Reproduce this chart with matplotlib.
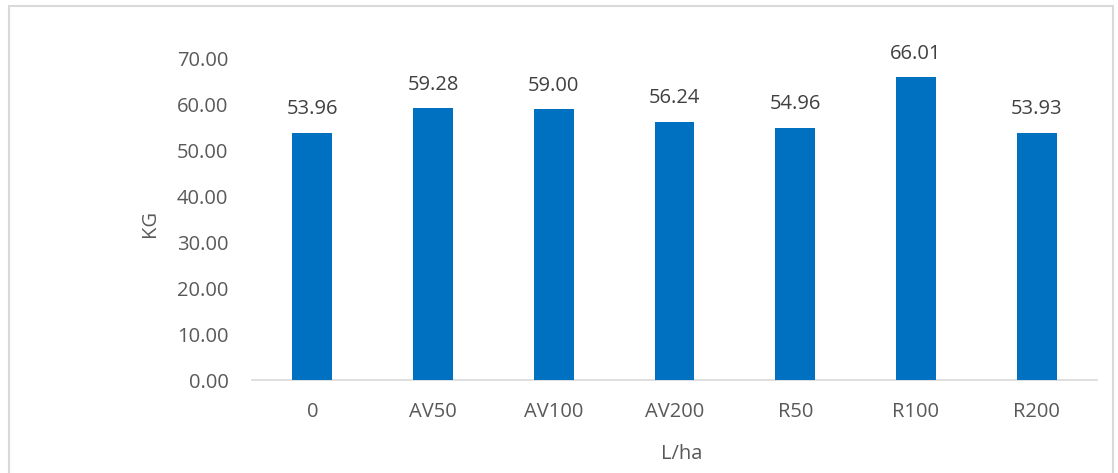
import matplotlib.pyplot as plt
from matplotlib.patches import Rectangle

categories = ["0", "AV50", "AV100", "AV200", "R50", "R100", "R200"]
values = [53.96, 59.28, 59.00, 56.24, 54.96, 66.01, 53.93]
y_ticks = [0, 10, 20, 30, 40, 50, 60, 70]

plt.rcParams['font.family'] = ['Open Sans', 'DejaVu Sans']

W, H = 1118, 473
fig = plt.figure(figsize=(W / 100, H / 100), dpi=100)
fig.patch.set_facecolor('white')

# chart area frame
fig.add_artist(Rectangle((8.5 / W, -0.05), (1112.5 - 8.5) / W, 1.05 - 6.5 / H,
                         transform=fig.transFigure, fill=False,
                         edgecolor='#D9D9D9', linewidth=1.5))

ax_l, ax_r, ax_t, ax_b = 252, 1097, 59, 380
ax = fig.add_axes([ax_l / W, 1 - ax_b / H, (ax_r - ax_l) / W, (ax_b - ax_t) / H])
x = range(len(categories))
ax.bar(x, values, width=0.33, color='#0070C0', zorder=3)

FS = 14.5
for xi, v in zip(x, values):
    ax.annotate(f"{v:.2f}", (xi, v), xytext=(0, 17), textcoords='offset points',
                ha='center', va='center', fontsize=FS, color='#404040')

ax.set_xlim(-0.5, len(categories) - 0.5)
ax.set_ylim(0, 70)
ax.set_yticks(y_ticks)
ax.set_yticklabels([f"{t:.2f}" for t in y_ticks])
ax.set_xticks(list(x))
ax.set_xticklabels(categories)

for s in ['top', 'right', 'left']:
    ax.spines[s].set_visible(False)
ax.spines['bottom'].set_color('#D9D9D9')
ax.spines['bottom'].set_linewidth(1.2)
ax.tick_params(axis='both', length=0, labelsize=FS, colors='#595959')
ax.tick_params(axis='y', pad=17)
ax.tick_params(axis='x', pad=16)

ax.set_ylabel("KG", fontsize=FS, color='#595959', va='center', ha='center')
ax.set_xlabel("L/ha", fontsize=FS, color='#595959', va='center', ha='center')
pw, ph = ax_r - ax_l, ax_b - ax_t
ax.yaxis.set_label_coords((150 - ax_l) / pw, (ax_b - 223) / ph)
ax.xaxis.set_label_coords((682 - ax_l) / pw, -(454 - ax_b) / ph)

fig.savefig("out.png", dpi=100)
